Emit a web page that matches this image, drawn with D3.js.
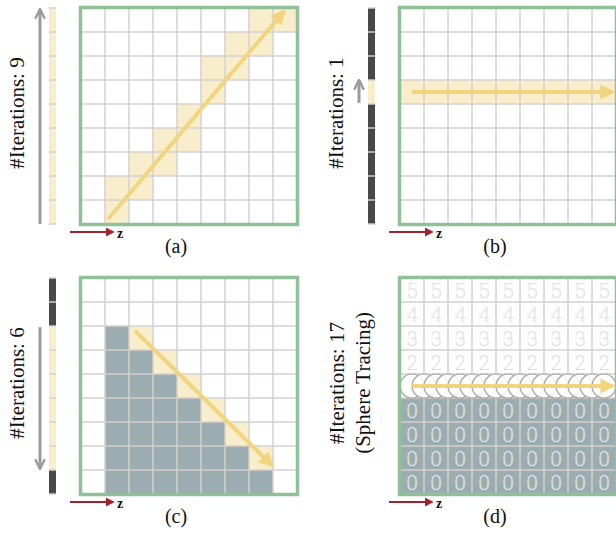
<!DOCTYPE html>
<html>
<head>
<meta charset="utf-8">
<script src="https://cdn.jsdelivr.net/npm/d3@7"></script>
<style>
  body { margin: 0; background: #fff; }
  svg { display: block; }
  .serif { font-family: "Liberation Serif", "Times New Roman", Times, serif; }
</style>
</head>
<body>
<svg id="chart" width="616" height="536"></svg>
<script>
// grid is 9 x 9 cells in every panel
const nRows = 9;
const nCols = 9;

// (a) cells touched by the ray, [row, col]
const aCells = [[0,7],[0,8],[1,6],[1,7],[2,5],[2,6],[3,5],[4,4],[5,3],[5,4],[6,2],[6,3],[7,1],[7,2],[8,1]];
// (b) single highlighted row
const bRow = 3;
// (c) occupied cells: row -> number of filled columns starting at col 1
const cOccRows = [2, 3, 4, 5, 6, 7, 8];
const cOccCount = [1, 2, 3, 4, 5, 6, 7];
const cCells = [[2,2],[3,3],[4,4],[5,5],[6,6],[7,7]];
// (d) distance values per row, and sphere tracing steps
const dRowValues = [5, 4, 3, 2, 1, 0, 0, 0, 0];
const dSteps = 17;
const dRayRow = 4;

// strip states per row: y = visited, d = skipped
const stripA = ["y","y","y","y","y","y","y","y","y"];
const stripB = ["d","d","d","y","d","d","d","d","d"];
const stripC = ["d","d","y","y","y","y","y","y","d"];

const labels = ["(a)", "(b)", "(c)", "(d)"];
const iterText = [["#Iterations: 9"], ["#Iterations: 1"], ["#Iterations: 6"], ["#Iterations: 17", "(Sphere Tracing)"]];

// ray arrows in grid units [col, row]
const rayA = [[1.12, 8.8], [8.45, 0.15]];
const rayB = [[0.5, 3.5], [8.85, 3.5]];
const rayC = [[2.25, 2.2], [7.95, 7.8]];
const rayD = [[0.5, 4.5], [8.85, 4.5]];
// iteration direction arrows (row units)
const iterA = [9, 0.05];
const iterB = [3.95, 3.0];
const iterC = [2.05, 7.95];

const C = {
  border: "#8fc098",
  grid: "#d6d1d1",
  hl: "#f9eecb",
  ray: "#f3d47e",
  occ: "#9cadb1",
  dark: "#4a4a4a",
  gray: "#9a9a9a",
  red: "#a3232c"
};

const svg = d3.select("#chart");
const defs = svg.append("defs");

function headMarker(id, color, size, open) {
  const m = defs.append("marker")
    .attr("id", id)
    .attr("viewBox", "0 -5 10 10")
    .attr("refX", open ? 9 : 8)
    .attr("refY", 0)
    .attr("markerUnits", "userSpaceOnUse")
    .attr("markerWidth", size)
    .attr("markerHeight", size)
    .attr("orient", "auto");
  if (open) {
    m.append("path").attr("d", "M1,-4L9,0L1,4")
      .attr("fill", "none").attr("stroke", color).attr("stroke-width", 2);
  } else {
    m.append("path").attr("d", "M0,-5L10,0L0,5Z").attr("fill", color);
  }
}
headMarker("head-ray", C.ray, 15, false);
headMarker("head-gray", C.gray, 12, true);
headMarker("head-red", C.red, 9, false);

const cell = 24;
const panels = [
  { x0: 81, y0: 8, strip: stripA, iter: iterA },
  { x0: 400, y0: 8, strip: stripB, iter: iterB },
  { x0: 81, y0: 278, strip: stripC, iter: iterC },
  { x0: 400, y0: 278, strip: null, iter: null }
];

panels.forEach((p, i) => {
  const g = svg.append("g");
  const x = d3.scaleLinear().domain([0, nCols]).range([p.x0, p.x0 + nCols * cell]);
  const y = d3.scaleLinear().domain([0, nRows]).range([p.y0, p.y0 + nRows * cell]);

  // highlighted / occupied cells
  let cells = [];
  if (i === 0) cells = aCells.map(([r, c]) => ({ r, c, fill: C.hl }));
  if (i === 1) cells = d3.range(nCols).map(c => ({ r: bRow, c, fill: C.hl }));
  if (i === 2) {
    cOccRows.forEach((r, k) => d3.range(cOccCount[k]).forEach(j => cells.push({ r, c: 1 + j, fill: C.occ })));
    cCells.forEach(([r, c]) => cells.push({ r, c, fill: C.hl }));
  }
  if (i === 3) {
    dRowValues.forEach((v, r) => { if (v === 0) d3.range(nCols).forEach(c => cells.push({ r, c, fill: C.occ })); });
  }
  g.selectAll("rect.cell").data(cells).join("rect")
    .attr("class", "cell")
    .attr("x", d => x(d.c)).attr("y", d => y(d.r))
    .attr("width", cell).attr("height", cell)
    .attr("fill", d => d.fill);

  // grid lines
  g.selectAll("line.v").data(d3.range(1, nCols)).join("line")
    .attr("x1", d => x(d)).attr("x2", d => x(d))
    .attr("y1", y(0)).attr("y2", y(nRows))
    .attr("stroke", C.grid).attr("stroke-width", 1.5);
  g.selectAll("line.h").data(d3.range(1, nRows)).join("line")
    .attr("y1", d => y(d)).attr("y2", d => y(d))
    .attr("x1", x(0)).attr("x2", x(nCols))
    .attr("stroke", C.grid).attr("stroke-width", 1.5);

  // distance numbers in (d)
  if (i === 3) {
    const nums = [];
    dRowValues.forEach((v, r) => d3.range(nCols).forEach(c => nums.push({ r, c, v })));
    g.selectAll("text.num").data(nums).join("text")
      .attr("x", d => x(d.c + 0.5)).attr("y", d => y(d.r + 0.5) + 7.5)
      .attr("text-anchor", "middle")
      .attr("font-family", "Roboto, sans-serif").attr("font-weight", 300)
      .attr("font-size", 21)
      .attr("fill", d => d.v === 0 ? "#e4e8e9" : "#e0e0e0")
      .text(d => d.v);

    // sphere tracing steps
    const step = (nCols - 1) / (dSteps - 1);
    g.selectAll("circle.step").data(d3.range(dSteps)).join("circle")
      .attr("cx", d => x(0.5 + d * step))
      .attr("cy", y(dRayRow + 0.5))
      .attr("r", cell / 2)
      .attr("fill", "rgba(255,255,255,0.85)")
      .attr("stroke", "#a3a3a3").attr("stroke-width", 1.2);
  }

  // ray
  const ray = [rayA, rayB, rayC, rayD][i];
  g.append("line")
    .attr("x1", x(ray[0][0])).attr("y1", y(ray[0][1]))
    .attr("x2", x(ray[1][0])).attr("y2", y(ray[1][1]))
    .attr("stroke", C.ray).attr("stroke-width", 4)
    .attr("marker-end", "url(#head-ray)");

  // border
  g.append("rect")
    .attr("x", x(0) - 0.5).attr("y", y(0) - 0.5)
    .attr("width", nCols * cell + 1).attr("height", nRows * cell + 1)
    .attr("fill", "none").attr("stroke", C.border).attr("stroke-width", 3.5);

  // iteration strip
  if (p.strip) {
    const sx = p.x0 - 32;
    g.selectAll("rect.strip").data(p.strip).join("rect")
      .attr("x", sx).attr("y", (d, r) => y(r))
      .attr("width", 7).attr("height", cell)
      .attr("fill", d => d === "y" ? C.hl : C.dark);
    g.selectAll("line.sep").data(d3.range(0, nRows + 1)).join("line")
      .attr("x1", sx).attr("x2", sx + 7)
      .attr("y1", d => y(d)).attr("y2", d => y(d))
      .attr("stroke", "#cfcfcf").attr("stroke-width", 1.5);
    const gx = p.x0 - 41;
    g.append("line")
      .attr("x1", gx).attr("x2", gx)
      .attr("y1", y(p.iter[0])).attr("y2", y(p.iter[1]))
      .attr("stroke", C.gray).attr("stroke-width", 3)
      .attr("marker-end", "url(#head-gray)");
  }

  // iteration text, rotated
  const tl = iterText[i];
  const tcy = y(nRows / 2) - 3;
  tl.forEach((t, k) => {
    const cx = tl.length > 1 ? p.x0 - 56 + k * 26 : p.x0 - 57;
    svg.append("text")
      .attr("class", "serif")
      .attr("transform", `translate(${cx},${tcy}) rotate(-90)`)
      .attr("text-anchor", "middle")
      .attr("font-size", 21)
      .attr("fill", "#111")
      .text(t);
  });

  // z axis arrow
  const zy = y(nRows) + 8;
  g.append("line")
    .attr("x1", p.x0 - 11).attr("x2", p.x0 + 32)
    .attr("y1", zy).attr("y2", zy)
    .attr("stroke", C.red).attr("stroke-width", 2)
    .attr("marker-end", "url(#head-red)");
  g.append("text")
    .attr("class", "serif")
    .attr("x", p.x0 + 36).attr("y", zy + 6)
    .attr("font-weight", "bold")
    .attr("font-size", 14).attr("fill", "#111")
    .text("z");

  // panel label
  g.append("text")
    .attr("class", "serif")
    .attr("x", x(nCols / 2) - 13).attr("y", y(nRows) + 29)
    .attr("text-anchor", "middle")
    .attr("font-size", 20).attr("fill", "#111")
    .text(labels[i]);
});
</script>
</body>
</html>
